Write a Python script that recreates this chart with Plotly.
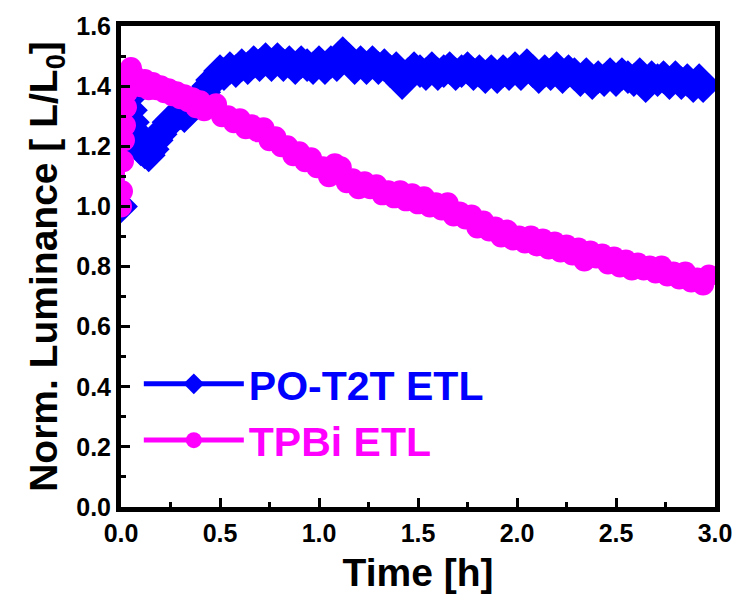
import plotly.graph_objects as go

# PO-T2T ETL (blue)
t_po = [0.00, 0.01, 0.02, 0.03, 0.04, 0.05, 0.06, 0.07, 0.08, 0.09, 0.10, 0.12, 0.14, 0.16, 0.18,
        0.20, 0.22, 0.24, 0.26, 0.28, 0.30, 0.32, 0.34, 0.36, 0.38, 0.40, 0.42, 0.44, 0.46, 0.48,
        0.50, 0.52, 0.55, 0.58, 0.61, 0.64, 0.67, 0.70, 0.73, 0.76, 0.79, 0.82, 0.85, 0.88, 0.91,
        0.94, 0.97, 1.00, 1.03, 1.06, 1.09, 1.12, 1.15, 1.18, 1.21, 1.24, 1.27, 1.30, 1.33, 1.36,
        1.39, 1.42, 1.45, 1.48, 1.51, 1.54, 1.57, 1.60, 1.63, 1.66, 1.69, 1.72, 1.75, 1.78, 1.81,
        1.84, 1.87, 1.90, 1.93, 1.96, 1.99, 2.02, 2.05, 2.08, 2.11, 2.14, 2.17, 2.20, 2.23, 2.26,
        2.29, 2.32, 2.35, 2.38, 2.41, 2.44, 2.47, 2.50, 2.53, 2.56, 2.59, 2.62, 2.65, 2.68, 2.71,
        2.74, 2.77, 2.80, 2.83, 2.86, 2.89, 2.92, 2.94]
l_po = [1.00, 1.20, 1.38, 1.40, 1.36, 1.32, 1.28, 1.25, 1.22, 1.20, 1.19, 1.18, 1.17, 1.19, 1.22,
        1.24, 1.26, 1.28, 1.29, 1.30, 1.31, 1.30, 1.32, 1.34, 1.35, 1.36, 1.38, 1.40, 1.42, 1.43,
        1.45, 1.44, 1.46, 1.45, 1.47, 1.46, 1.48, 1.47, 1.49, 1.47, 1.49, 1.47, 1.48, 1.46, 1.48,
        1.47, 1.46, 1.48, 1.46, 1.48, 1.47, 1.51, 1.49, 1.46, 1.48, 1.46, 1.48, 1.46, 1.47, 1.45,
        1.46, 1.41, 1.44, 1.46, 1.45, 1.44, 1.46, 1.44, 1.45, 1.46, 1.44, 1.45, 1.46, 1.44, 1.45,
        1.43, 1.45, 1.43, 1.45, 1.44, 1.46, 1.44, 1.47, 1.45, 1.43, 1.45, 1.44, 1.46, 1.43, 1.45,
        1.44, 1.42, 1.44, 1.41, 1.43, 1.42, 1.44, 1.42, 1.44, 1.43, 1.42, 1.44, 1.40, 1.43, 1.42,
        1.43, 1.41, 1.43, 1.41, 1.42, 1.40, 1.42, 1.40]

# TPBi ETL (magenta)
t_tp = [0.00, 0.005, 0.01, 0.015, 0.02, 0.025, 0.03, 0.04, 0.05, 0.06, 0.08, 0.10, 0.12, 0.14,
        0.16, 0.18, 0.20, 0.22, 0.24, 0.26, 0.28, 0.30, 0.32, 0.34, 0.36, 0.38, 0.40, 0.42, 0.45,
        0.48, 0.51, 0.54, 0.57, 0.60, 0.63, 0.66, 0.69, 0.72, 0.75, 0.78, 0.81, 0.84, 0.87, 0.90,
        0.93, 0.96, 0.99, 1.02, 1.05, 1.08, 1.11, 1.14, 1.17, 1.20, 1.23, 1.26, 1.29, 1.32, 1.35,
        1.38, 1.41, 1.44, 1.47, 1.50, 1.53, 1.56, 1.59, 1.62, 1.65, 1.68, 1.71, 1.74, 1.77, 1.80,
        1.83, 1.86, 1.89, 1.92, 1.95, 1.98, 2.01, 2.04, 2.07, 2.10, 2.13, 2.16, 2.19, 2.22, 2.25,
        2.28, 2.31, 2.34, 2.37, 2.40, 2.43, 2.46, 2.49, 2.52, 2.55, 2.58, 2.61, 2.64, 2.67, 2.70,
        2.73, 2.76, 2.79, 2.82, 2.85, 2.88, 2.91, 2.94, 2.97]
l_tp = [1.00, 1.05, 1.15, 1.22, 1.27, 1.33, 1.38, 1.43, 1.46, 1.44, 1.42, 1.40, 1.42, 1.39,
        1.41, 1.39, 1.40, 1.38, 1.39, 1.37, 1.38, 1.36, 1.37, 1.35, 1.36, 1.33, 1.35, 1.32, 1.33,
        1.34, 1.30, 1.30, 1.28, 1.29, 1.26, 1.27, 1.25, 1.26, 1.22, 1.23, 1.20, 1.20, 1.17, 1.18,
        1.15, 1.16, 1.13, 1.13, 1.10, 1.14, 1.13, 1.08, 1.09, 1.06, 1.08, 1.06, 1.07, 1.04, 1.05,
        1.03, 1.05, 1.02, 1.04, 1.01, 1.03, 1.00, 1.01, 0.99, 1.01, 0.97, 0.98, 0.96, 0.97, 0.93,
        0.95, 0.92, 0.93, 0.90, 0.92, 0.89, 0.90, 0.88, 0.90, 0.87, 0.89, 0.86, 0.88, 0.85, 0.87,
        0.84, 0.86, 0.82, 0.85, 0.83, 0.84, 0.81, 0.83, 0.80, 0.82, 0.79, 0.81, 0.79, 0.80, 0.78,
        0.80, 0.77, 0.78, 0.76, 0.78, 0.75, 0.76, 0.74, 0.77]

x_ticks = [0.0, 0.5, 1.0, 1.5, 2.0, 2.5, 3.0]
y_ticks = [0.0, 0.2, 0.4, 0.6, 0.8, 1.0, 1.2, 1.4, 1.6]

BLUE = "#0000FF"
MAG = "#FF00FF"
FONT = "Liberation Sans"

fig = go.Figure()
fig.add_trace(go.Scatter(
    x=t_po, y=l_po, mode="lines+markers",
    name="<b><span style='color:#0000FF'>PO-T2T ETL</span></b>",
    line=dict(color=BLUE, width=5),
    marker=dict(symbol="diamond", size=26, color=BLUE, line=dict(width=0)),
))
fig.add_trace(go.Scatter(
    x=t_tp, y=l_tp, mode="lines+markers",
    name="<b><span style='color:#FF00FF'>TPBi ETL</span></b>",
    line=dict(color=MAG, width=5),
    marker=dict(symbol="circle", size=22, color=MAG, line=dict(width=0)),
))

axis_common = dict(
    showline=True, linewidth=5, linecolor="black", mirror=True,
    ticks="inside", ticklen=9, tickwidth=3, tickcolor="black",
    showgrid=False, zeroline=False,
    tickfont=dict(family=FONT, size=25, color="black", weight="bold"),
)

fig.update_xaxes(
    range=[0, 3.0], tickvals=x_ticks, ticktext=[f"{v:.1f}" for v in x_ticks],
    minor=dict(ticks="inside", ticklen=5, tickwidth=3, tickcolor="black", dtick=0.25, showgrid=False),
    title=dict(text="<b>Time [h]</b>", font=dict(family=FONT, size=39, color="black"), standoff=14),
    **axis_common,
)
fig.update_yaxes(
    range=[0, 1.6], tickvals=y_ticks, ticktext=[f"{v:.1f}" for v in y_ticks],
    minor=dict(ticks="inside", ticklen=5, tickwidth=3, tickcolor="black", dtick=0.1, showgrid=False),
    title=dict(text="<b>Norm. Luminance [ L/L<sub>0</sub>]</b>", font=dict(family=FONT, size=39, color="black"), standoff=8),
    **axis_common,
)

fig.update_layout(
    width=744, height=600,
    margin=dict(l=121, r=24, t=26, b=92),
    plot_bgcolor="white", paper_bgcolor="white",
    legend=dict(
        x=0.03, y=0.325, xanchor="left", yanchor="top",
        bgcolor="rgba(0,0,0,0)", borderwidth=0,
        font=dict(family=FONT, size=41),
        itemwidth=100, tracegroupgap=0,
    ),
    showlegend=True,
)

fig.write_html("out.html")
